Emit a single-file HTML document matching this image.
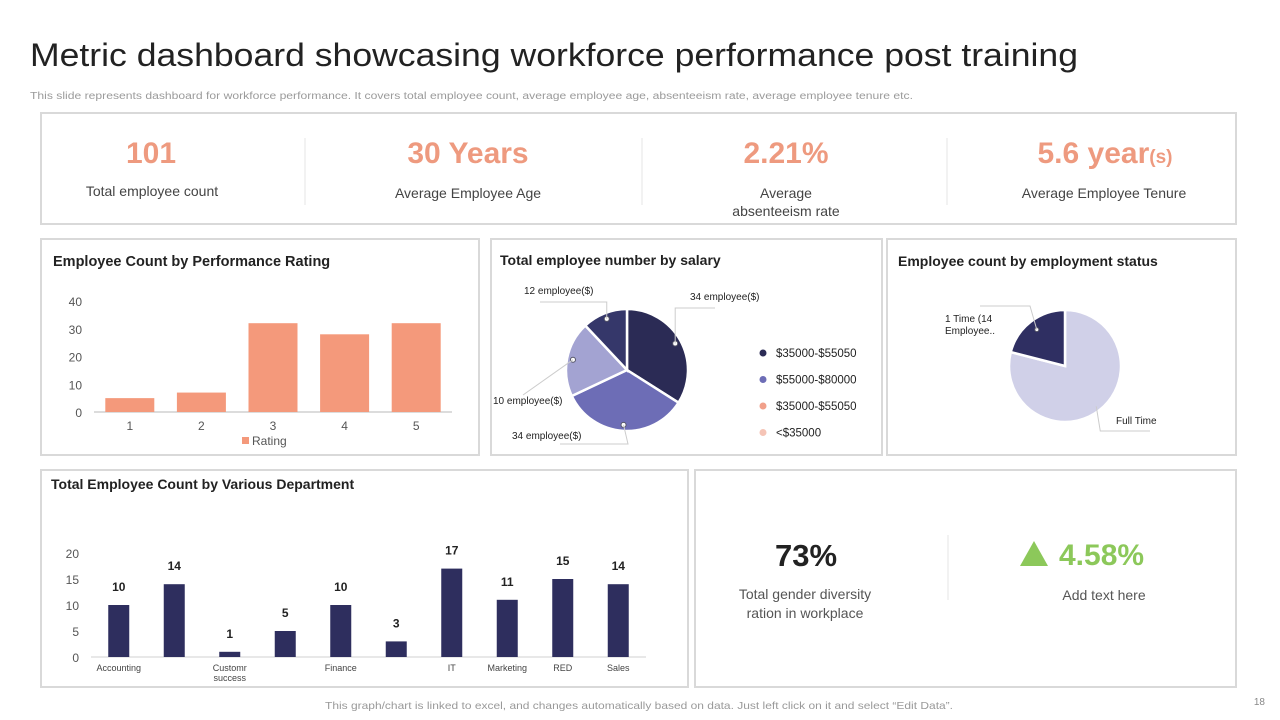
<!DOCTYPE html>
<html><head><meta charset="utf-8"><style>
html,body{margin:0;padding:0;background:#fff;}
svg{display:block;font-family:"Liberation Sans",sans-serif;}
</style></head><body>
<svg id="s" width="1280" height="720" viewBox="0 0 1280 720" xmlns="http://www.w3.org/2000/svg">
<text x="30" y="66" font-size="32" fill="#222" textLength="1048" lengthAdjust="spacingAndGlyphs">Metric dashboard showcasing workforce performance post training</text>
<text x="30" y="99" font-size="10" fill="#9a9a9a" textLength="883" lengthAdjust="spacingAndGlyphs">This slide represents dashboard for workforce performance. It covers total employee count, average employee age, absenteeism rate, average employee tenure etc.</text>

<g>
<rect x="41" y="113" width="1195" height="111" fill="#fff" stroke="#d9d9d9" stroke-width="2"/>
<line x1="305" y1="138" x2="305" y2="205" stroke="#e6e6e6"/>
<line x1="642" y1="138" x2="642" y2="205" stroke="#e6e6e6"/>
<line x1="947" y1="138" x2="947" y2="205" stroke="#e6e6e6"/>
<text x="151" y="163" font-size="30" font-weight="bold" fill="#ee9a7f" text-anchor="middle">101</text>
<text x="152" y="196" font-size="14" fill="#444" text-anchor="middle">Total employee count</text>
<text x="468" y="163" font-size="30" font-weight="bold" fill="#ee9a7f" text-anchor="middle">30 Years</text>
<text x="468" y="198" font-size="14" fill="#444" text-anchor="middle">Average  Employee Age</text>
<text x="786" y="163" font-size="30" font-weight="bold" fill="#ee9a7f" text-anchor="middle">2.21%</text>
<text x="786" y="198" font-size="14" fill="#444" text-anchor="middle">Average</text>
<text x="786" y="216" font-size="14" fill="#444" text-anchor="middle">absenteeism rate</text>
<text x="1105" y="163" font-size="30" font-weight="bold" fill="#ee9a7f" text-anchor="middle">5.6 year<tspan font-size="19">(s)</tspan></text>
<text x="1104" y="198" font-size="14" fill="#444" text-anchor="middle">Average  Employee Tenure</text>
</g>

<g>
<rect x="41" y="239" width="438" height="216" fill="#fff" stroke="#d9d9d9" stroke-width="2"/>
<text x="53" y="266" font-size="14.5" font-weight="bold" fill="#222">Employee Count by Performance Rating</text>
<g id="rating"></g>
</g>

<g>
<rect x="491" y="239" width="391" height="216" fill="#fff" stroke="#d9d9d9" stroke-width="2"/>
<text x="500" y="265" font-size="14" font-weight="bold" fill="#222">Total employee number by salary</text>
<g id="salary"></g>
</g>

<g>
<rect x="887" y="239" width="349" height="216" fill="#fff" stroke="#d9d9d9" stroke-width="2"/>
<text x="898" y="266" font-size="14" font-weight="bold" fill="#222">Employee count by employment status</text>
<g id="status"></g>
</g>

<g>
<rect x="41" y="470" width="647" height="217" fill="#fff" stroke="#d9d9d9" stroke-width="2"/>
<text x="51" y="489" font-size="14" font-weight="bold" fill="#222">Total Employee Count by Various Department</text>
<g id="dept"></g>
</g>

<g>
<rect x="695" y="470" width="541" height="217" fill="#fff" stroke="#d9d9d9" stroke-width="2"/>
<line x1="948" y1="535" x2="948" y2="600" stroke="#e6e6e6"/>
<text x="806" y="566" font-size="31" font-weight="bold" fill="#222" text-anchor="middle">73%</text>
<text x="805" y="599" font-size="14" fill="#555" text-anchor="middle">Total gender diversity</text>
<text x="805" y="618" font-size="14" fill="#555" text-anchor="middle">ration in workplace</text>
<polygon points="1020,566 1048,566 1034,541" fill="#8cc85a"/>
<text x="1059" y="565" font-size="30" font-weight="bold" fill="#8cc85a">4.58%</text>
<text x="1104" y="600" font-size="14" fill="#555" text-anchor="middle">Add text here</text>
</g>

<text x="325" y="709" font-size="10.5" fill="#999" textLength="628" lengthAdjust="spacingAndGlyphs">This graph/chart is linked to excel,  and changes automatically based on data. Just left click on it and select “Edit Data”.</text>
<text x="1265" y="705" font-size="10" fill="#888" text-anchor="end">18</text>
</svg>
<script>
const NS="http://www.w3.org/2000/svg";
const ratingCats=["1","2","3","4","5"];
const ratingVals=[5,7,32,28,32];
const ratingTicks=[0,10,20,30,40];
const salaryVals=[34,34,20,12];
const salaryLabels=["34 employee($)","34 employee($)","10 employee($)","12 employee($)"];
const salaryLegend=["$35000-$55050","$55000-$80000","$35000-$55050","<$35000"];
const statusVals=[79,21];
const statusLabels=["Full Time","1 Time  (14 Employee.."];
const deptCats=["Accounting","","Customr success","","Finance","","IT","Marketing","RED","Sales"];
const deptVals=[10,14,1,5,10,3,17,11,15,14];
const deptTicks=[0,5,10,15,20];

function mk(tag,attrs,parent){const e=document.createElementNS(NS,tag);for(const k in attrs)e.setAttribute(k,attrs[k]);parent.appendChild(e);return e;}
function txt(parent,x,y,s,size,fill,anchor){const t=mk("text",{x:x,y:y,"font-size":size,fill:fill,"text-anchor":anchor||"middle"},parent);t.textContent=s;return t;}

(function(){
 const g=document.getElementById("rating");
 const x0=94,x1=452,y0=412,yTop=301,max=40;
 const ys=v=>y0-(v/max)*(y0-yTop);
 const step=(x1-x0)/ratingCats.length;
 ratingTicks.forEach(t=>{const l=txt(g,82,ys(t)+5,String(t),12,"#555","end");
 
 });
 mk("line",{x1:x0,y1:y0,x2:x1,y2:y0,stroke:"#d0d0d0","stroke-width":1.5},g);
 ratingCats.forEach((c,i)=>{
  const cx=x0+step*(i+0.5),v=ratingVals[i];
  const r=mk("rect",{x:cx-24.5,y:ys(v),width:49,height:y0-ys(v),fill:"#f4997b"},g);
  
  
  const l=txt(g,cx,430,c,12,"#555");
  
  
 });
 const lg=mk("rect",{x:242,y:437,width:7,height:7,fill:"#f4997b"},g);
 
 
 const lt=txt(g,252,445,"Rating",12,"#555","start");
 
 
})();

function pie(g,cx,cy,r,vals,colors,names){
 const tot=vals.reduce((a,b)=>a+b,0);let a=0;const mids=[];
 vals.forEach((v,i)=>{
  const a0=a,a1=a+v/tot*2*Math.PI;a=a1;
  const p=(t)=>[cx+r*Math.sin(t),cy-r*Math.cos(t)];
  const [sx,sy]=p(a0),[ex,ey]=p(a1);
  const large=(a1-a0)>Math.PI?1:0;
  const path=mk("path",{d:`M${cx},${cy} L${sx},${sy} A${r},${r} 0 ${large} 1 ${ex},${ey} Z`,fill:colors[i],stroke:"#fff","stroke-width":2.5},g);
  
  
  mids.push((a0+a1)/2);
 });
 return mids;
}

(function(){
 const g=document.getElementById("salary");
 const cx=627,cy=370,r=61;
 const cols=["#2b2b55","#6d6db6","#a3a3d2","#35376a"];
 const mids=pie(g,cx,cy,r,salaryVals,cols,["salary-slice-1","salary-slice-2","salary-slice-3","salary-slice-4"]);
 const lpos=[[690,300,"start"],[512,439,"start"],[493,404,"start"],[524,294,"start"]];
 const elbow=[[715,308],[560,444],[523,395],[540,302]];
 mids.forEach((m,i)=>{
  const px=cx+(r-6)*Math.sin(m),py=cy-(r-6)*Math.cos(m);
  mk("circle",{cx:px,cy:py,r:2.5,fill:"#fff",stroke:"#556",'stroke-width':1},g);
  mk("polyline",{points:`${px},${py} ${i==1||i==2?elbow[i][0]+(i==1?68:0):px},${elbow[i][1]} ${elbow[i][0]},${elbow[i][1]}`,fill:"none",stroke:"#ccc"},g);
  const t=txt(g,lpos[i][0],lpos[i][1],salaryLabels[i],10,"#222",lpos[i][2]);
  
  
 });
 const lc=["#2b2b55","#6d6db6","#f1a08a","#f5c4b6"];
 salaryLegend.forEach((s,i)=>{
  const y=353+i*26.5;
  const c=mk("circle",{cx:763,cy:y,r:3.5,fill:lc[i]},g);
  
  
  const t=txt(g,776,y+4,s,11.5,"#222","start");
  
  
 });
})();

(function(){
 const g=document.getElementById("status");
 const cx=1065,cy=366,r=56;
 const mids=pie(g,cx,cy,r,statusVals,["#d0d0e8","#2f2f62"],["status-slice-full-time","status-slice-part-time"]);
 const fx=cx+(r-5)*Math.sin(mids[0]),fy=cy-(r-5)*Math.cos(mids[0]);
 mk("polyline",{points:`${fx},${fy} ${fx+4},431 ${1150},431`,fill:"none",stroke:"#ccc"},g);
 const t1=txt(g,1116,424,statusLabels[0],10,"#222","start");
 
 
 const px=cx+(r-10)*Math.sin(mids[1]),py=cy-(r-10)*Math.cos(mids[1]);
 mk("circle",{cx:px,cy:py,r:2,fill:"#fff",stroke:"#556"},g);
 mk("polyline",{points:`${px},${py} ${1030},306 ${980},306`,fill:"none",stroke:"#ccc"},g);
 const t2=txt(g,945,322,"1 Time  (14",10,"#222","start");
 
 
 const t3=txt(g,945,334,"Employee..",10,"#222","start");
 
 
})();

(function(){
 const g=document.getElementById("dept");
 const x0=91,x1=646,y0=657,yTop=553,max=20;
 const ys=v=>y0-(v/max)*(y0-yTop);
 const step=(x1-x0)/deptVals.length;
 deptTicks.forEach(t=>{const l=txt(g,79,ys(t)+5,String(t),12,"#555","end");
 
 });
 mk("line",{x1:x0,y1:y0,x2:x1,y2:y0,stroke:"#d0d0d0","stroke-width":1},g);
 deptVals.forEach((v,i)=>{
  const cx=x0+step*(i+0.5);
  const r=mk("rect",{x:cx-10.5,y:ys(v),width:21,height:y0-ys(v),fill:"#2e2e5e"},g);
  
  
  const vl=txt(g,cx,ys(v)-14,String(v),12,"#222");
  vl.setAttribute('font-weight','bold');
  
  
  const c=deptCats[i];
  if(c){
   const parts=c==="Customr success"?["Customr","success"]:[c];
   parts.forEach((p,j)=>{const l=txt(g,cx,671+j*10,p,9,"#444");
   
   });
  }
 });
})();
</script>
</body></html>
